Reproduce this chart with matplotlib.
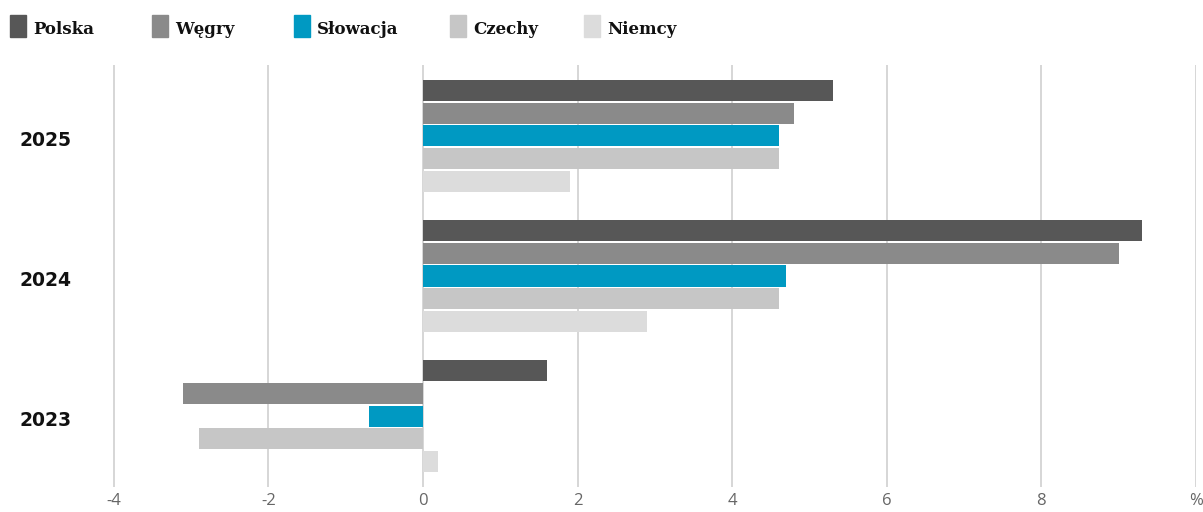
import matplotlib.pyplot as plt
import matplotlib.patches as mpatches
import numpy as np

# data
years = ["2025", "2024", "2023"]
countries = ["Polska", "Węgry", "Słowacja", "Czechy", "Niemcy"]
polska = [5.3, 9.3, 1.6]
wegry = [4.8, 9.0, -3.1]
slowacja = [4.6, 4.7, -0.7]
czechy = [4.6, 4.6, -2.9]
niemcy = [1.9, 2.9, 0.2]
xticks = [-4, -2, 0, 2, 4, 6, 8, 10]
xticklabels = ["-4", "-2", "0", "2", "4", "6", "8", "%"]

colors = ["#575757", "#8a8a8a", "#0099c2", "#c6c6c6", "#dcdcdc"]
series = [polska, wegry, slowacja, czechy, niemcy]

fig = plt.figure(figsize=(12.03, 5.12), dpi=100)
ax = fig.add_axes([82 / 1203, 25 / 512, (1196 - 82) / 1203, (487 - 65) / 512])

y = np.arange(len(years))
step = 0.161
height = 0.15
for k, (vals, col) in enumerate(zip(series, colors)):
    offs = (k - 2) * step
    ax.barh(y + offs, vals, height=height, color=col, zorder=3)

ax.set_xlim(-4.41, 10)
ax.set_ylim(2.507, -0.507)
ax.set_xticks(xticks)
ax.set_xticklabels(xticklabels, fontfamily="Open Sans", fontsize=12, color="#666666")
ax.grid(axis="x", color="#cccccc", linewidth=1.1, zorder=0)
ax.tick_params(axis="x", length=0, pad=4)
ax.tick_params(axis="y", length=0)
ax.set_yticks([])
for s in ax.spines.values():
    s.set_visible(False)

for yi, label in zip(y, years):
    ax.text(-4.88, yi + 0.03, label, ha="center", va="center", fontsize=13.5,
            fontweight="bold", fontfamily="DejaVu Sans", color="#111111")

# legend across the top
leg_x = [10, 152, 294, 450, 584]
for lx, name, col in zip(leg_x, countries, colors):
    fig.patches.append(mpatches.Rectangle((lx / 1203, 1 - 37 / 512), 16 / 1203, 22 / 512,
                                          transform=fig.transFigure, color=col))
    fig.text((lx + 23) / 1203, 1 - 29 / 512, name, fontsize=12, fontweight="bold",
             fontfamily="DejaVu Serif", color="#111111", va="center")

fig.savefig("out.png", dpi=100)
